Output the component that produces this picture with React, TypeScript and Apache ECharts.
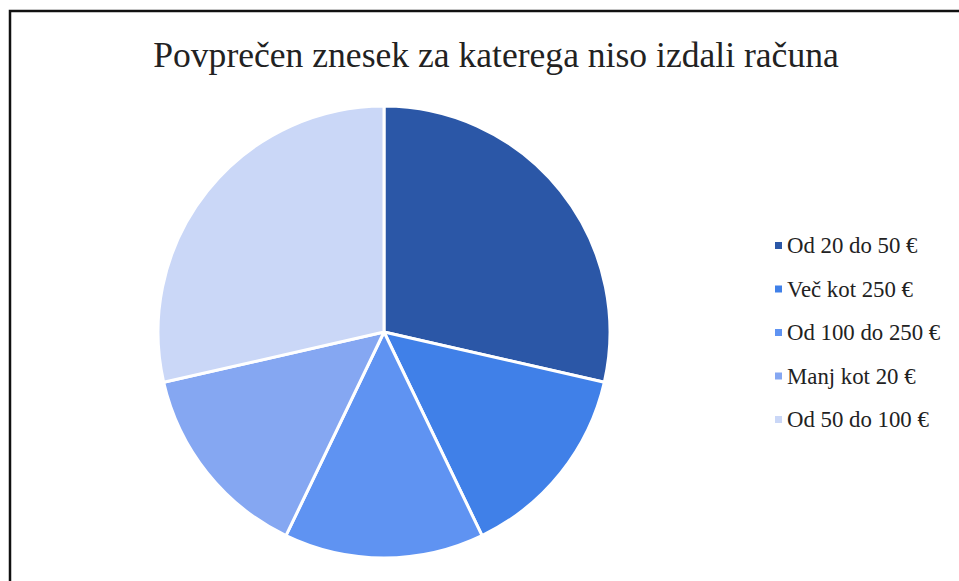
import React, { useEffect, useRef } from "react";
import * as echarts from "echarts";

const title = "Povprečen znesek za katerega niso izdali računa";
const categories = ["Od 20 do 50 €", "Več kot 250 €", "Od 100 do 250 €", "Manj kot 20 €", "Od 50 do 100 €"];
const values = [2, 1, 1, 1, 2];
const colors = ["#2B57A7", "#4080E8", "#5F93F2", "#85A7F2", "#CAD7F7"];

export default function App() {
  const ref = useRef<HTMLDivElement>(null);
  useEffect(() => {
    const chart = echarts.init(ref.current!, undefined, { renderer: "svg" });
    const font = "'Liberation Serif', 'DejaVu Serif', serif";
    chart.setOption({
      animation: false,
      backgroundColor: "#ffffff",
      title: {
        text: title,
        left: 491,
        top: 32,
        textAlign: "center",
        textStyle: { fontFamily: font, fontSize: 35.6, fontWeight: "normal", color: "#222" },
      },
      legend: {
        orient: "vertical",
        left: 768,
        top: 229,
        itemWidth: 9,
        itemHeight: 9,
        itemGap: 20.5,
        icon: "rect",
        textStyle: { fontFamily: font, fontSize: 22.8, lineHeight: 22.3, color: "#222", padding: [0, 0, 0, -1] },
        data: categories,
      },
      graphic: [
        {
          type: "rect",
          shape: { x: 10, y: 11, width: 1200, height: 1200 },
          style: { fill: "none", stroke: "#111", lineWidth: 2.5 },
          z: 100,
        },
      ],
      series: [
        {
          type: "pie",
          center: [384, 332],
          radius: 226,
          startAngle: 90,
          clockwise: true,
          label: { show: false },
          labelLine: { show: false },
          itemStyle: { borderColor: "#fff", borderWidth: 3 },
          data: categories.map((c, i) => ({ name: c, value: values[i], itemStyle: { color: colors[i] } })),
        },
      ],
    });
    return () => chart.dispose();
  }, []);
  return <div ref={ref} style={{ position: "fixed", left: 0, top: 0, width: 959, height: 581 }} />;
}
